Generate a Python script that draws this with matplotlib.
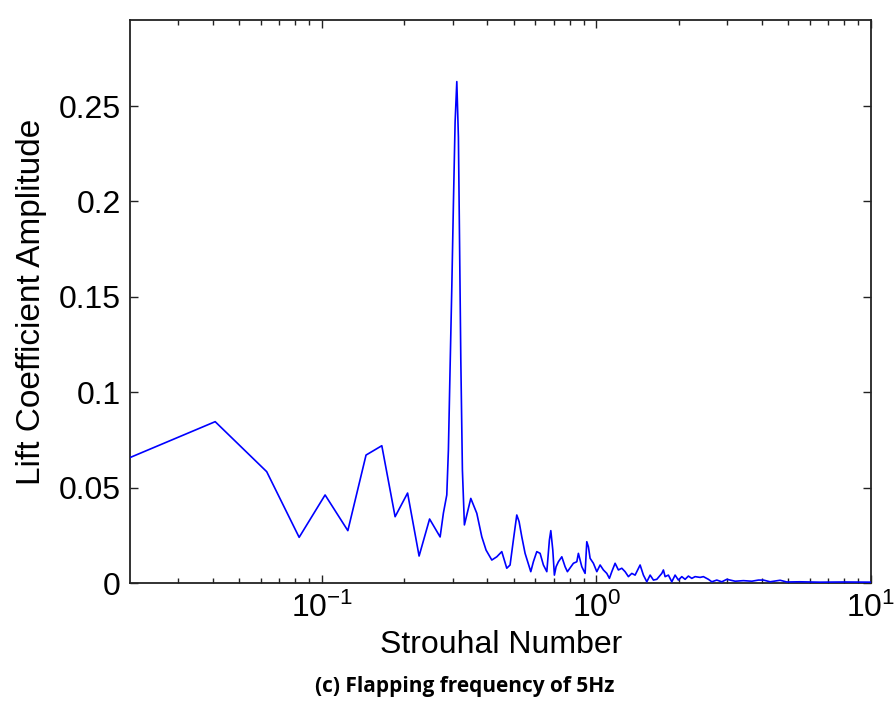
import matplotlib
matplotlib.use('Agg')
import matplotlib.pyplot as plt
from matplotlib.ticker import FixedLocator, FixedFormatter, LogLocator, LogFormatterMathtext

plt.rcParams['font.family'] = ['Liberation Sans', 'DejaVu Sans']
plt.rcParams['mathtext.fontset'] = 'custom'
plt.rcParams['mathtext.rm'] = 'Liberation Sans'
plt.rcParams['mathtext.it'] = 'Liberation Sans'
plt.rcParams['mathtext.bf'] = 'Liberation Sans:bold'

# spectrum (Strouhal number vs lift coefficient amplitude)
strouhal = [
    0.0201, 0.0409, 0.0630, 0.0827, 0.1028, 0.1244, 0.1449, 0.1654, 0.1849, 0.2053,
    0.2261, 0.2469, 0.2697, 0.2772, 0.2852, 0.2891, 0.2932, 0.2975, 0.3015, 0.3058,
    0.3102, 0.3144, 0.3176, 0.3208, 0.3251, 0.3306, 0.3488, 0.3668, 0.3825, 0.3965,
    0.4160, 0.4338, 0.4523, 0.4716, 0.4849, 0.4985, 0.5129, 0.5230, 0.5349, 0.5499,
    0.5768, 0.5895, 0.6066, 0.6237, 0.6412, 0.6598, 0.6743, 0.6823, 0.6938, 0.7031,
    0.7132, 0.7271, 0.7482, 0.7691, 0.7842, 0.8246, 0.8485, 0.8598, 0.8848, 0.9095,
    0.9226, 0.9352, 0.9486, 0.9752, 1.0035, 1.0316, 1.0605, 1.0911, 1.1152, 1.1378,
    1.1697, 1.2025, 1.2374, 1.2721, 1.3077, 1.3456, 1.3833, 1.4427, 1.4832, 1.5261,
    1.5692, 1.6133, 1.6596, 1.7306, 1.7539, 1.7791, 1.8289, 1.8818, 1.9346, 1.9888,
    2.0464, 2.1038, 2.1627, 2.2254, 2.2878, 2.3859, 2.4527, 2.5575, 2.6316, 2.7442,
    2.8623, 2.9854, 3.2004, 3.4301, 3.6813, 3.8905, 4.0577, 4.2922, 4.6667, 4.9363,
    5.5, 6.5, 8.0, 10.0,
]
amplitude = [
    0.0659, 0.0846, 0.0584, 0.0240, 0.0462, 0.0275, 0.0671, 0.0720, 0.0348, 0.0472,
    0.0142, 0.0336, 0.0242, 0.0367, 0.0462, 0.0698, 0.1127, 0.1553, 0.1987, 0.2415,
    0.2628, 0.2336, 0.1755, 0.1169, 0.0593, 0.0305, 0.0444, 0.0366, 0.0243, 0.0173,
    0.0121, 0.0138, 0.0165, 0.0078, 0.0095, 0.0226, 0.0357, 0.0322, 0.0243, 0.0156,
    0.0060, 0.0112, 0.0165, 0.0156, 0.0095, 0.0060, 0.0226, 0.0275, 0.0173, 0.0042,
    0.0086, 0.0112, 0.0138, 0.0086, 0.0060, 0.0104, 0.0112, 0.0156, 0.0086, 0.0051,
    0.0217, 0.0190, 0.0130, 0.0104, 0.0060, 0.0095, 0.0069, 0.0051, 0.0025, 0.0060,
    0.0104, 0.0069, 0.0078, 0.0060, 0.0034, 0.0051, 0.0042, 0.0095, 0.0042, 0.0007,
    0.0042, 0.0016, 0.0020, 0.0051, 0.0069, 0.0034, 0.0042, 0.0007, 0.0042, 0.0016,
    0.0034, 0.0020, 0.0037, 0.0025, 0.0034, 0.0030, 0.0034, 0.0020, 0.0007, 0.0016,
    0.0007, 0.0020, 0.0010, 0.0013, 0.0010, 0.0016, 0.0016, 0.0007, 0.0015, 0.0006,
    0.0007, 0.0005, 0.0006, 0.0005,
]
y_ticks = [0, 0.05, 0.1, 0.15, 0.2, 0.25]
y_tick_labels = ['0', '0.05', '0.1', '0.15', '0.2', '0.25']

fig = plt.figure(figsize=(8.96, 7.12), dpi=100)
ax = fig.add_axes([0.1456, 0.181, 0.8265, 0.791])

ax.plot(strouhal, amplitude, color='#0000ff', linewidth=1.2, zorder=3)

ax.set_xscale('log')
ax.set_xlim(0.0201, 10)
ax.set_ylim(0, 0.2951)
ax.xaxis.set_major_locator(LogLocator(base=10))
ax.xaxis.set_major_formatter(LogFormatterMathtext())
ax.xaxis.set_minor_locator(LogLocator(base=10, subs=range(2, 10)))
ax.yaxis.set_major_locator(FixedLocator(y_ticks))
ax.yaxis.set_major_formatter(FixedFormatter(y_tick_labels))

for s in ax.spines.values():
    s.set_linewidth(1.3)
    s.set_color('#222222')
ax.tick_params(which='both', direction='in', top=True, right=True, width=1.0, colors='#222222',
               labelcolor='black', labelsize=23)
ax.tick_params(which='major', length=6, pad=7)
ax.tick_params(which='minor', length=3.5)

ax.set_xlabel('Strouhal Number', fontsize=23, labelpad=4)
ax.set_ylabel('Lift Coefficient Amplitude', fontsize=24, labelpad=8)

fig.text(0.519, 0.036, '(c) Flapping frequency of 5Hz', ha='center', va='center',
         fontsize=15, fontweight='bold', family=['Open Sans', 'DejaVu Sans'])

fig.savefig('out.png', dpi=100)
